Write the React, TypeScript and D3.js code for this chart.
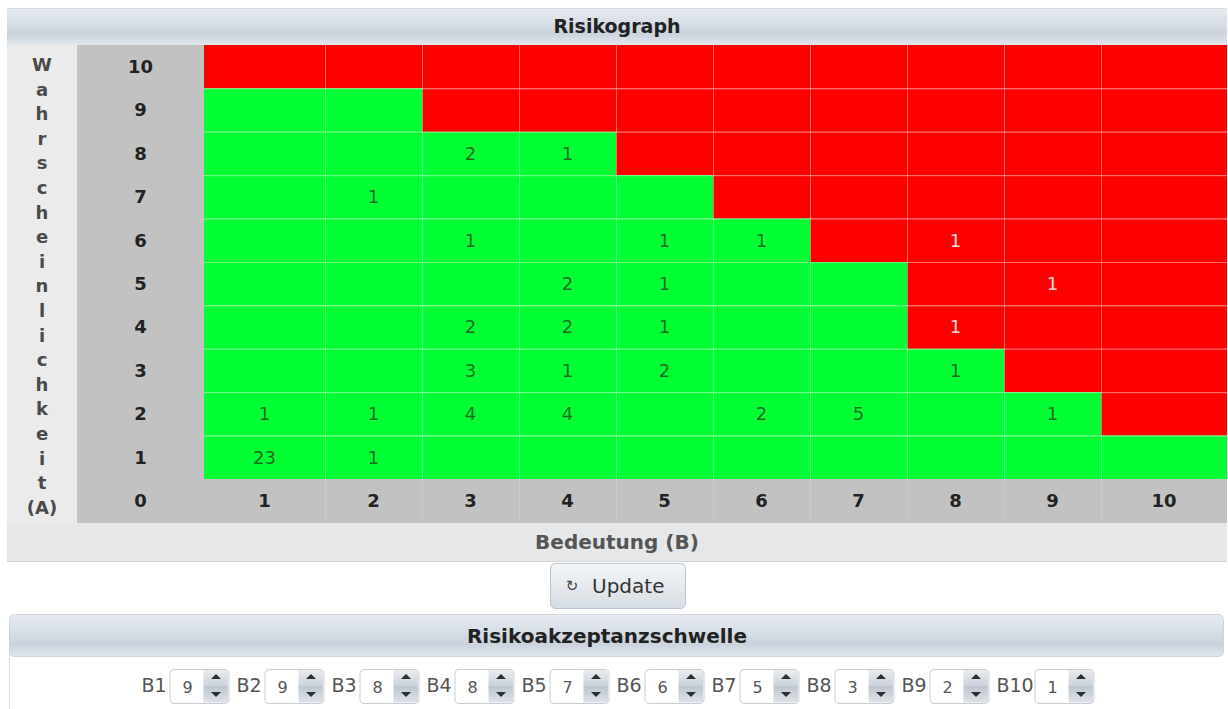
import React from "react";
import * as d3 from "d3";

// Likelihood (A) rows, top to bottom, and severity (B) columns
const probability = [10, 9, 8, 7, 6, 5, 4, 3, 2, 1];
const severity = [1, 2, 3, 4, 5, 6, 7, 8, 9, 10];
// Acceptance threshold per severity column: cells with A above it are red
const threshold = [9, 9, 8, 8, 7, 6, 5, 3, 2, 1];
// Number of risks per cell: [A, B, count]
const findings: [number, number, number][] = [
  [8, 3, 2], [8, 4, 1],
  [7, 2, 1],
  [6, 3, 1], [6, 5, 1], [6, 6, 1], [6, 8, 1],
  [5, 4, 2], [5, 5, 1], [5, 9, 1],
  [4, 3, 2], [4, 4, 2], [4, 5, 1], [4, 8, 1],
  [3, 3, 3], [3, 4, 1], [3, 5, 2], [3, 8, 1],
  [2, 1, 1], [2, 2, 1], [2, 3, 4], [2, 4, 4], [2, 6, 2], [2, 7, 5], [2, 9, 1],
  [1, 1, 23], [1, 2, 1],
];
const title = "Risikograph";
const yTitle = "Wahrscheinlichkeit";
const xTitle = "Bedeutung (B)";
const thresholdTitle = "Risikoakzeptanzschwelle";

const W = 1228;
const H = 709;
const FONT = "'DejaVu Sans', Verdana, sans-serif";

// layout
const panelL = 7, panelR = 1227;
const titleTop = 8, gridTop = 45, gridBottom = 479, axisBottom = 523, barBottom = 561;
const labelColR = 77, headColR = 204;
const firstExtra = 24, lastExtra = 29;

const RED = "#ff0000";
const GREEN = "#00ff33";

export default function App() {
  const x = d3
    .scaleBand<number>()
    .domain(severity)
    .range([headColR + firstExtra, panelR - lastExtra]);
  const y = d3.scaleBand<number>().domain(probability).range([gridTop, gridBottom]);
  const bw = x.bandwidth();
  const cellL = (b: number) => (b === severity[0] ? headColR : (x(b) as number));
  const cellR = (b: number) =>
    b === severity[severity.length - 1] ? panelR : (x(b) as number) + bw;
  const cellCx = (b: number) => (cellL(b) + cellR(b)) / 2;

  const countAt = new Map(findings.map(([a, b, n]) => [`${a}-${b}`, n]));

  // vertical axis title, one letter per line
  const letters = [...yTitle.split(""), "(A)"];
  const letterStep = 24.6;
  const letterMid = 286;
  const letterY = (i: number) => letterMid + (i - (letters.length - 1) / 2) * letterStep;

  // threshold spinner row
  const labelW = (s: string) => 5 + 10 * s.length;
  const boxW = 59, gapLB = 3, gapGroup = 8;
  const groups = severity.map((b, i) => ({ label: `B${b}`, value: threshold[i] }));
  const totalW =
    groups.reduce((s, g) => s + labelW(g.label) + gapLB + boxW, 0) + gapGroup * (groups.length - 1);
  let cursor = 617.5 - totalW / 2;
  const placed = groups.map((g) => {
    const lx = cursor;
    const bx = lx + labelW(g.label) + gapLB;
    cursor = bx + boxW + gapGroup;
    return { ...g, lx, bx };
  });
  const boxTop = 669, boxH = 34;

  return (
    <svg
      width={W}
      height={H}
      style={{ position: "absolute", left: 0, top: 0, display: "block", background: "#fff" }}
      fontFamily={FONT}
    >
      <defs>
        <linearGradient id="hdr" x1="0" y1="0" x2="0" y2="1">
          <stop offset="0" stopColor="#e7ebf0" />
          <stop offset="0.45" stopColor="#d6dde5" />
          <stop offset="0.7" stopColor="#cad2dc" />
          <stop offset="1" stopColor="#e3e8ee" />
        </linearGradient>
        <linearGradient id="btn" x1="0" y1="0" x2="0" y2="1">
          <stop offset="0" stopColor="#f3f5f7" />
          <stop offset="0.5" stopColor="#e6eaee" />
          <stop offset="1" stopColor="#d5dce3" />
        </linearGradient>
        <linearGradient id="spinUp" x1="0" y1="0" x2="0" y2="1">
          <stop offset="0" stopColor="#e9ecef" />
          <stop offset="1" stopColor="#c9d0d8" />
        </linearGradient>
        <linearGradient id="spinDown" x1="0" y1="0" x2="0" y2="1">
          <stop offset="0" stopColor="#bcc5cf" />
          <stop offset="1" stopColor="#dde2e7" />
        </linearGradient>
      </defs>

      {/* title bar */}
      <rect x={panelL} y={titleTop} width={panelR - panelL} height={gridTop - titleTop} fill="url(#hdr)" />
      <line x1={panelL} x2={panelR} y1={titleTop + 0.5} y2={titleTop + 0.5} stroke="#d3d9e0" />
      <text x={617} y={(titleTop + gridTop) / 2} dy="0.35em" textAnchor="middle" fontSize={19} fontWeight="bold" fill="#222">
        {title}
      </text>

      {/* left title column and row header column */}
      <rect x={panelL} y={gridTop} width={labelColR - panelL} height={axisBottom - gridTop} fill="#ebebeb" />
      <rect x={labelColR} y={gridTop} width={headColR - labelColR} height={axisBottom - gridTop} fill="#c2c2c2" />
      <rect x={headColR} y={gridBottom} width={panelR - headColR} height={axisBottom - gridBottom} fill="#c2c2c2" />

      {letters.map((ch, i) => (
        <text key={i} x={(panelL + labelColR) / 2} y={letterY(i)} dy="0.35em" textAnchor="middle"
          fontSize={18} fontWeight="bold" fill="#4a4a4a">
          {ch}
        </text>
      ))}

      {/* row labels */}
      {probability.map((a) => (
        <text key={a} x={(labelColR + headColR) / 2} y={(y(a) as number) + y.bandwidth() / 2} dy="0.35em"
          textAnchor="middle" fontSize={18} fontWeight="bold" fill="#222">
          {a}
        </text>
      ))}
      <text x={(labelColR + headColR) / 2} y={(gridBottom + axisBottom) / 2} dy="0.35em" textAnchor="middle"
        fontSize={18} fontWeight="bold" fill="#222">
        0
      </text>

      {/* column labels */}
      {severity.map((b) => (
        <g key={b}>
          {b !== severity[0] && (
            <line x1={cellL(b) + 0.5} x2={cellL(b) + 0.5} y1={gridBottom} y2={axisBottom} stroke="#cbcbcb" />
          )}
          <text x={cellCx(b)} y={(gridBottom + axisBottom) / 2} dy="0.35em" textAnchor="middle"
            fontSize={18} fontWeight="bold" fill="#222">
            {b}
          </text>
        </g>
      ))}

      {/* risk cells */}
      {probability.map((a) =>
        severity.map((b, i) => {
          const red = a > threshold[i];
          const n = countAt.get(`${a}-${b}`);
          const y0 = y(a) as number;
          return (
            <g key={`${a}-${b}`}>
              <rect x={cellL(b)} y={y0} width={cellR(b) - cellL(b)} height={y.bandwidth()}
                fill={red ? RED : GREEN} />
              {n !== undefined && (
                <text x={cellCx(b)} y={y0 + y.bandwidth() / 2} dy="0.35em" textAnchor="middle"
                  fontSize={18} fill={red ? "#ffd9d9" : "#1c6f22"}>
                  {n}
                </text>
              )}
            </g>
          );
        })
      )}
      {/* cell grid */}
      {severity.slice(1).map((b) => (
        <line key={`v${b}`} x1={cellL(b) + 0.5} x2={cellL(b) + 0.5} y1={gridTop} y2={gridBottom}
          stroke="#ffffff" strokeOpacity={0.4} />
      ))}
      {probability.slice(1).map((a) => (
        <line key={`h${a}`} x1={headColR} x2={panelR} y1={(y(a) as number) + 0.5} y2={(y(a) as number) + 0.5}
          stroke="#ffffff" strokeOpacity={0.4} />
      ))}

      {/* x axis title bar */}
      <rect x={panelL} y={axisBottom} width={panelR - panelL} height={barBottom - axisBottom} fill="#e6e7e8" />
      <line x1={panelL} x2={panelR} y1={barBottom + 0.5} y2={barBottom + 0.5} stroke="#cfd2d5" />
      <text x={617} y={(axisBottom + barBottom) / 2} dy="0.35em" textAnchor="middle" fontSize={20}
        fontWeight="bold" fill="#555">
        {xTitle}
      </text>

      {/* update button */}
      <rect x={550.5} y={563.5} width={135} height={45} rx={5} fill="url(#btn)" stroke="#bcc4cc" />
      <text x={572} y={586} dy="0.35em" textAnchor="middle" fontSize={15} fill="#444">↻</text>
      <text x={592} y={586} dy="0.35em" fontSize={20} fill="#333">Update</text>

      {/* threshold panel */}
      <line x1={9.5} x2={9.5} y1={640} y2={H} stroke="#dadde0" />
      <rect x={9.5} y={614.5} width={1214} height={42} rx={5} fill="url(#hdr)" stroke="#cdd4dc" />
      <text x={607} y={636} dy="0.35em" textAnchor="middle" fontSize={20} fontWeight="bold" fill="#222">
        {thresholdTitle}
      </text>

      {placed.map((g) => {
        const spinX = g.bx + boxW - 25;
        const mid = boxTop + boxH / 2;
        return (
          <g key={g.label}>
            <text x={g.lx} y={mid - 1} dy="0.35em" fontSize={19} fill="#555">{g.label}</text>
            <rect x={g.bx + 0.5} y={boxTop + 0.5} width={boxW} height={boxH} rx={4} fill="#fff" stroke="#c9cdd1" />
            <rect x={spinX} y={boxTop + 1} width={24.5} height={boxH / 2} fill="url(#spinUp)" />
            <rect x={spinX} y={mid} width={24.5} height={boxH / 2 - 0.5} fill="url(#spinDown)" />
            <path d={`M${spinX + 7.5},${mid - 7} L${spinX + 12.5},${mid - 12} L${spinX + 17.5},${mid - 7} Z`} fill="#2d2d2d" />
            <path d={`M${spinX + 7.5},${mid + 6} L${spinX + 12.5},${mid + 11} L${spinX + 17.5},${mid + 6} Z`} fill="#2d2d2d" />
            <text x={g.bx + 13} y={mid + 1} dy="0.35em" fontSize={16} fill="#555">{g.value}</text>
          </g>
        );
      })}
    </svg>
  );
}
